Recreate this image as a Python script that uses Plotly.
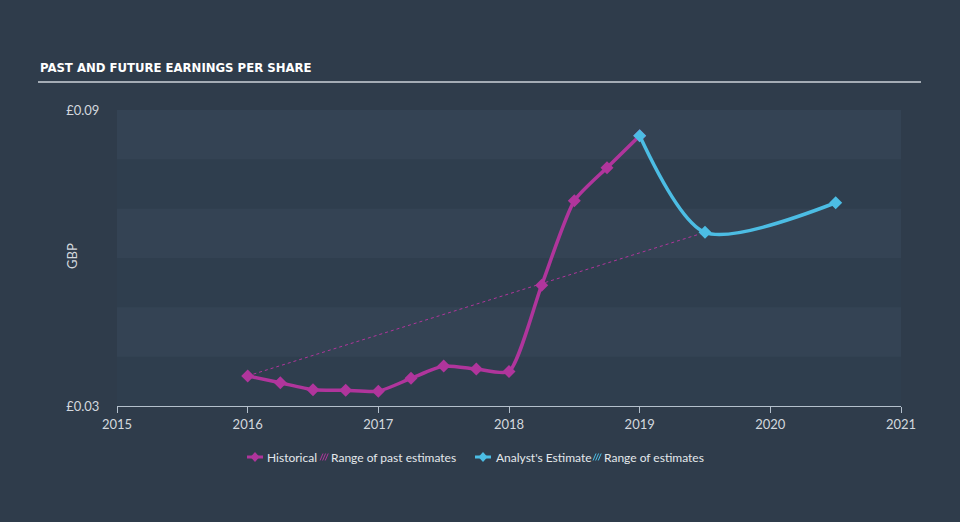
import plotly.graph_objects as go

# ---- data ----
hist_x = [2016.0, 2016.25, 2016.5, 2016.75, 2017.0, 2017.25, 2017.5, 2017.75,
          2018.0, 2018.25, 2018.5, 2018.75, 2019.0]
hist_y = [0.0361, 0.0347, 0.0333, 0.0332, 0.0330, 0.0356, 0.0381, 0.0375,
          0.0370, 0.0545, 0.0716, 0.0783, 0.0848]
fc_x = [2019.0, 2019.5, 2020.5]
fc_y = [0.0848, 0.0652, 0.0712]
past_range_x = [2016.0, 2019.5]
past_range_y = [0.0361, 0.0652]
x_ticks = [2015, 2016, 2017, 2018, 2019, 2020, 2021]
y_ticks = [0.03, 0.09]
y_tick_labels = ["£0.03", "£0.09"]
band_edges = [(0.03, 0.04), (0.05, 0.06), (0.07, 0.08)]
legend_labels = ["Historical", "Range of past estimates", "Analyst's Estimate", "Range of estimates"]

MAG = "#b0359c"
CYAN = "#4cbde4"
FONT = "Lato"

# plot area in pixels: x 117..901, y 110..406
def px(x):
    return (x - 117) / 784

def py(y):
    return (406 - y) / 296

fig = go.Figure()

fig.add_trace(go.Scatter(
    x=hist_x, y=hist_y, mode="lines+markers", name=legend_labels[0],
    line=dict(color=MAG, width=3.5, shape="spline", smoothing=0.6),
    marker=dict(symbol="diamond", size=10, color=MAG), showlegend=False,
))
fig.add_trace(go.Scatter(
    x=past_range_x, y=past_range_y, mode="lines", name=legend_labels[1],
    line=dict(color=MAG, width=1, dash="dot"), showlegend=False,
))
fig.add_trace(go.Scatter(
    x=fc_x, y=fc_y, mode="lines+markers", name=legend_labels[2],
    line=dict(color=CYAN, width=3.5, shape="spline", smoothing=0.8),
    marker=dict(symbol="diamond", size=10, color=CYAN), showlegend=False,
))

shapes = []
for lo, hi in band_edges:
    shapes.append(dict(type="rect", xref="x", yref="y", x0=2015, x1=2021, y0=lo, y1=hi,
                       fillcolor="rgba(20,30,42,0.12)", line=dict(width=0), layer="below"))
# title underline
shapes.append(dict(type="line", xref="paper", yref="paper",
                   x0=px(38), x1=px(921), y0=py(82), y1=py(82),
                   line=dict(color="#a4acb5", width=2)))

annotations = [
    dict(text="<b>PAST AND FUTURE EARNINGS PER SHARE</b>", xref="paper", yref="paper",
         x=px(38), y=py(67), xanchor="left", yanchor="middle",
         showarrow=False, font=dict(family="DejaVu Sans Condensed", size=13, color="#ffffff")),
    dict(text="GBP", xref="paper", yref="paper", x=px(72), y=py(256),
         xanchor="center", yanchor="middle", textangle=-90, showarrow=False,
         font=dict(family=FONT, size=13, color="#d3d8de")),
]

# ---- custom legend ----
LY = 457
def line_diamond(x0, x1, color):
    cx = (x0 + x1) / 2
    shapes.append(dict(type="line", xref="paper", yref="paper", x0=px(x0), x1=px(x1),
                       y0=py(LY), y1=py(LY), line=dict(color=color, width=3)))
    shapes.append(dict(type="path", xref="paper", yref="paper",
                       path=f"M {px(cx)},{py(LY-5)} L {px(cx+4.5)},{py(LY)} L {px(cx)},{py(LY+5)} L {px(cx-4.5)},{py(LY)} Z",
                       fillcolor=color, line=dict(width=0)))

def hatch(x0, color):
    for i in range(3):
        a = x0 + i * 2.6
        shapes.append(dict(type="line", xref="paper", yref="paper",
                           x0=px(a), x1=px(a + 3), y0=py(LY + 3.5), y1=py(LY - 3.5),
                           line=dict(color=color, width=1)))

def label(x, text):
    annotations.append(dict(text=text, xref="paper", yref="paper", x=px(x), y=py(LY),
                            xanchor="left", yanchor="middle", showarrow=False,
                            font=dict(family=FONT, size=12, color="#e4e8ec")))

line_diamond(247, 263, MAG)
label(265, legend_labels[0])
hatch(320, MAG)
label(329, legend_labels[1])
line_diamond(475, 491, CYAN)
label(494, legend_labels[2])
hatch(593, CYAN)
label(602, legend_labels[3])

fig.update_layout(
    width=960, height=522,
    margin=dict(l=117, r=59, t=110, b=116),
    paper_bgcolor="#2f3c4b", plot_bgcolor="#344354",
    font=dict(family=FONT, color="#d3d8de", size=13),
    shapes=shapes,
    annotations=annotations,
    showlegend=False,
    xaxis=dict(range=[2015, 2021], tickvals=x_ticks, ticktext=[str(v) for v in x_ticks],
               showgrid=False, zeroline=False, showline=True, linecolor="#b4c0cc", linewidth=1,
               ticks="outside", ticklen=6, tickcolor="#b4c0cc",
               tickfont=dict(family=FONT, size=13, color="#d3d8de")),
    yaxis=dict(range=[0.03, 0.09], tickvals=y_ticks, ticktext=y_tick_labels,
               showgrid=False, zeroline=False, showline=False,
               ticks="outside", ticklen=14, tickcolor="rgba(0,0,0,0)",
               tickfont=dict(family=FONT, size=13, color="#d3d8de")),
)

fig.write_html("out.html")
